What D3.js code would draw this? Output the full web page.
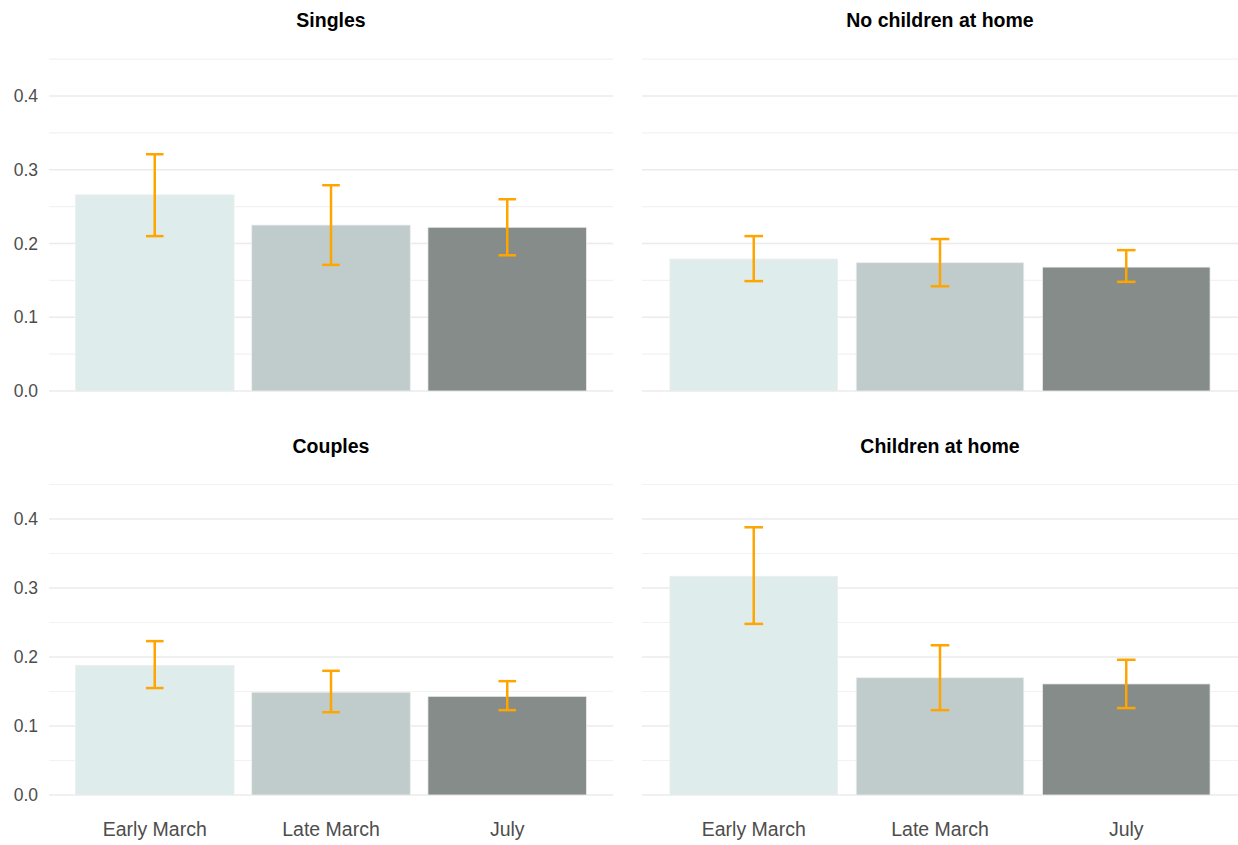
<!DOCTYPE html>
<html>
<head>
<meta charset="utf-8">
<script src="https://cdn.jsdelivr.net/npm/d3@7"></script>
<style>
  html, body { margin: 0; padding: 0; background: #fff; }
  svg { display: block; font-family: "Liberation Sans", Arial, Helvetica, sans-serif; }
</style>
</head>
<body>
<svg id="chart" width="1238" height="845"></svg>
<script>
// ---- Data ----
const categories = ["Early March", "Late March", "July"];
const panelTitles = ["Singles", "No children at home", "Couples", "Children at home"];
const yTicks = [0, 0.1, 0.2, 0.3, 0.4];
const yTickLabels = ["0.0", "0.1", "0.2", "0.3", "0.4"];
const minorTicks = [0.05, 0.15, 0.25, 0.35, 0.45];

const singlesMean = [0.266, 0.225, 0.222];
const singlesLow  = [0.210, 0.171, 0.184];
const singlesHigh = [0.321, 0.279, 0.260];

const noChildMean = [0.179, 0.174, 0.168];
const noChildLow  = [0.149, 0.142, 0.148];
const noChildHigh = [0.210, 0.206, 0.191];

const couplesMean = [0.188, 0.149, 0.143];
const couplesLow  = [0.155, 0.120, 0.123];
const couplesHigh = [0.223, 0.180, 0.165];

const childMean = [0.317, 0.170, 0.161];
const childLow  = [0.248, 0.123, 0.126];
const childHigh = [0.388, 0.217, 0.196];

const barColors = ["#DFECEC", "#C0CCCB", "#858C8A"];
const errColor = "#FFA500";

// ---- Layout ----
const panels = [
  { title: panelTitles[0], mean: singlesMean, low: singlesLow, high: singlesHigh,
    x0: 49, x1: 613, y0: 391, yTop: 59.1, titleY: 27, showY: true, showX: false },
  { title: panelTitles[1], mean: noChildMean, low: noChildLow, high: noChildHigh,
    x0: 642, x1: 1238, y0: 391, yTop: 59.1, titleY: 27, showY: false, showX: false },
  { title: panelTitles[2], mean: couplesMean, low: couplesLow, high: couplesHigh,
    x0: 49, x1: 613, y0: 795, yTop: 484.5, titleY: 453, showY: true, showX: true },
  { title: panelTitles[3], mean: childMean, low: childLow, high: childHigh,
    x0: 642, x1: 1238, y0: 795, yTop: 484.5, titleY: 453, showY: false, showX: true }
];

const svg = d3.select("#chart");

panels.forEach(p => {
  const g = svg.append("g");
  const y = d3.scaleLinear().domain([0, 0.45]).range([p.y0, p.yTop]);
  // ggplot-style discrete axis: positions 1..3, expanded by 0.6 each side
  const xc = d3.scaleLinear().domain([0.4, 3.6]).range([p.x0, p.x1]);
  const step = xc(2) - xc(1);
  const barW = step * 0.9;
  const capW = step * 0.1;

  // gridlines
  g.selectAll(".minor").data(minorTicks).join("line")
    .attr("x1", p.x0).attr("x2", p.x1)
    .attr("y1", d => y(d)).attr("y2", d => y(d))
    .attr("stroke", "#F2F2F2").attr("stroke-width", 1.2);
  g.selectAll(".major").data(yTicks).join("line")
    .attr("x1", p.x0).attr("x2", p.x1)
    .attr("y1", d => y(d)).attr("y2", d => y(d))
    .attr("stroke", "#EBEBEB").attr("stroke-width", 1.6);

  // bars
  g.selectAll(".bar").data(p.mean).join("rect")
    .attr("x", (d, i) => xc(i + 1) - barW / 2)
    .attr("width", barW)
    .attr("y", d => y(d))
    .attr("height", d => y(0) - y(d))
    .attr("fill", (d, i) => barColors[i])
    .attr("stroke", "#EEEEEE").attr("stroke-width", 0.8);

  // error bars
  const eb = g.selectAll(".eb").data(p.mean.map((m, i) => ({ i, lo: p.low[i], hi: p.high[i] }))).join("g");
  eb.append("line")
    .attr("x1", d => xc(d.i + 1)).attr("x2", d => xc(d.i + 1))
    .attr("y1", d => y(d.lo)).attr("y2", d => y(d.hi))
    .attr("stroke", errColor).attr("stroke-width", 2.5);
  eb.append("line")
    .attr("x1", d => xc(d.i + 1) - capW / 2).attr("x2", d => xc(d.i + 1) + capW / 2)
    .attr("y1", d => y(d.hi)).attr("y2", d => y(d.hi))
    .attr("stroke", errColor).attr("stroke-width", 2.5);
  eb.append("line")
    .attr("x1", d => xc(d.i + 1) - capW / 2).attr("x2", d => xc(d.i + 1) + capW / 2)
    .attr("y1", d => y(d.lo)).attr("y2", d => y(d.lo))
    .attr("stroke", errColor).attr("stroke-width", 2.5);

  // title
  g.append("text")
    .attr("x", (p.x0 + p.x1) / 2)
    .attr("y", p.titleY)
    .attr("text-anchor", "middle")
    .attr("font-size", 19.5).attr("font-weight", "bold").attr("fill", "#000")
    .text(p.title);

  // y axis labels
  if (p.showY) {
    const yAxis = d3.axisLeft(y).tickValues(yTicks)
      .tickFormat((d, i) => yTickLabels[i]).tickSize(0).tickPadding(0);
    const ya = g.append("g").attr("transform", `translate(${38},0)`).call(yAxis);
    ya.select(".domain").remove();
    ya.selectAll("text").attr("font-size", 17.5).attr("fill", "#4D4D4D")
      .attr("font-family", "Liberation Sans, Arial, sans-serif");
  }

  // x axis labels
  if (p.showX) {
    const xb = d3.scaleBand().domain(categories)
      .range([xc(0.5), xc(3.5)]);
    const xAxis = d3.axisBottom(xb).tickSize(0).tickPadding(0);
    const xa = g.append("g").attr("transform", `translate(0,${p.y0 + 27})`).call(xAxis);
    xa.select(".domain").remove();
    xa.selectAll("text").attr("font-size", 19.5).attr("fill", "#4D4D4D")
      .attr("font-family", "Liberation Sans, Arial, sans-serif");
  }
});
</script>
</body>
</html>
